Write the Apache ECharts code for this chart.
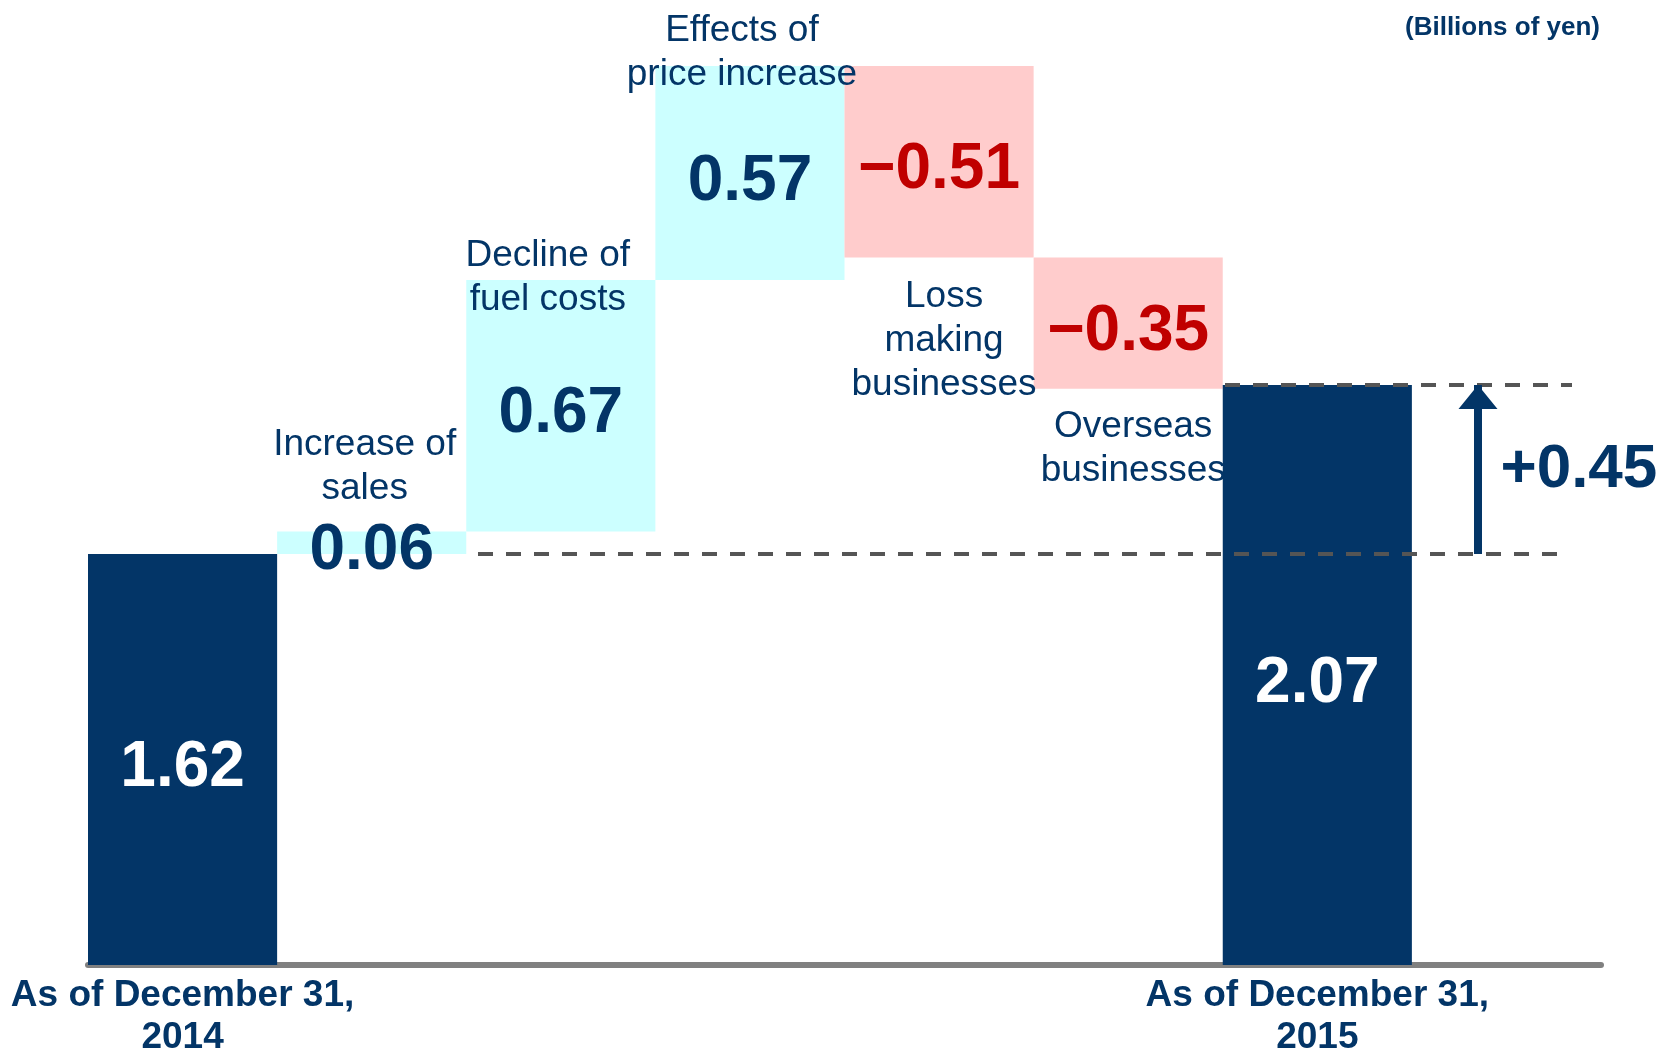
<!DOCTYPE html>
<html>
<head>
<meta charset="utf-8">
<script src="https://cdn.jsdelivr.net/npm/echarts@6/dist/echarts.min.js"></script>
<style>
  body { margin: 0; background: #fff; }
  #waterfall { width: 1661px; height: 1054px; }
</style>
</head>
<body>
<div id="waterfall"></div>
<script>
// categories and values (billions of yen)
const categories = ['As of December 31,\n2014', 'Increase of\nsales', 'Decline of\nfuel costs', 'Effects of\nprice increase', 'Loss\nmaking\nbusinesses', 'Overseas\nbusinesses', 'As of December 31,\n2015']
const changes = [1.62, 0.06, 0.67, 0.57, -0.51, -0.35, 2.07]
const kinds = ['total', 'up', 'up', 'up', 'down', 'down', 'total']
const unitText = '(Billions of yen)'

const NAVY = '#033567'
const FONT = "'Liberation Sans', Arial, sans-serif"

// running sums for the floating bars
const base = []
const height = []
let run = 0
changes.forEach((v, i) => {
  if (kinds[i] === 'total') {
    base.push(0); height.push(v); run = v
  } else if (v >= 0) {
    base.push(+run.toFixed(2)); height.push(v); run += v
  } else {
    run += v; base.push(+run.toFixed(2)); height.push(-v)
  }
})
const startTotal = changes[0]
const endTotal = changes[changes.length - 1]

// where the floating names sit relative to their bar (px)
const nameOffset = { 1: [-7, -21], 2: [-13, 42], 3: [-8, 31], 4: [5, 17], 5: [5, 16] }

const names = []
changes.forEach((v, i) => {
  if (kinds[i] === 'total') return
  const up = v >= 0
  names.push({
    value: [i, up ? base[i] + height[i] : base[i]],
    name: categories[i],
    label: { position: up ? 'top' : 'bottom', offset: nameOffset[i] }
  })
})

function fmt (v) {
  return v < 0 ? '\u2212' + Math.abs(v).toFixed(2) : v.toFixed(2)
}

const option = {
  animation: false,
  title: {
    text: unitText,
    right: 56,
    top: 10,
    textStyle: { color: NAVY, fontSize: 26, fontWeight: 'bold', fontFamily: FONT }
  },
  grid: { left: 88, right: 60, top: 66, bottom: 89, outerBoundsMode: 'none' },
  xAxis: {
    type: 'category',
    data: categories.map((c, i) => kinds[i] === 'total' ? c : '').concat(['']),
    axisLine: { lineStyle: { color: '#808080', width: 6 } },
    axisTick: { show: false },
    axisLabel: {
      interval: 0,
      margin: 10,
      color: NAVY,
      fontSize: 37,
      fontWeight: 'bold',
      lineHeight: 42,
      fontFamily: FONT
    }
  },
  yAxis: {
    type: 'value',
    min: 0.525,
    max: 2.92,
    show: false,
    splitLine: { show: false }
  },
  series: [
    {
      // dashed guides, under the bars
      name: 'guides',
      type: 'line',
      data: [],
      z: 1,
      markLine: {
        silent: true,
        symbol: ['none', 'none'],
        label: { show: false },
        lineStyle: { color: '#555555', width: 4, type: [15, 13] },
        data: [
          [{ coord: [2, startTotal], x: 478 }, { coord: [7, startTotal], x: 1560 }],
          [{ coord: [6, endTotal], x: 1225 }, { coord: [7, endTotal], x: 1572 }]
        ]
      }
    },
    {
      name: 'base',
      type: 'bar',
      stack: 'wf',
      barWidth: '100%',
      clip: true,
      itemStyle: { color: 'transparent' },
      data: base,
      z: 2
    },
    {
      name: 'change',
      type: 'bar',
      stack: 'wf',
      barWidth: '100%',
      clip: true,
      z: 2,
      data: height.map((h, i) => ({
        value: h,
        itemStyle: { color: kinds[i] === 'total' ? NAVY : (kinds[i] === 'up' ? '#CCFFFF' : '#FFCCCC') },
        label: { color: kinds[i] === 'total' ? '#ffffff' : (kinds[i] === 'up' ? NAVY : '#C00000') }
      })),
      label: {
        show: true,
        position: 'inside',
        offset: [0, 9],
        fontSize: 64,
        fontWeight: 'bold',
        fontFamily: FONT,
        formatter: p => fmt(changes[p.dataIndex])
      }
    },
    {
      name: 'names',
      type: 'scatter',
      symbolSize: 0,
      z: 3,
      itemStyle: { opacity: 1 },
      data: names,
      label: {
        show: true,
        distance: 0,
        color: NAVY,
        opacity: 1,
        fontSize: 37,
        lineHeight: 44,
        fontFamily: FONT,
        formatter: p => p.name
      }
    },
    {
      // arrow for the total change
      name: 'arrow',
      type: 'scatter',
      symbolSize: 0,
      z: 3,
      itemStyle: { opacity: 1, color: NAVY },
      data: [[7, (startTotal + endTotal) / 2]],
      label: {
        show: true,
        position: 'right',
        distance: -6,
        color: NAVY,
        opacity: 1,
        fontSize: 62,
        fontWeight: 'bold',
        fontFamily: FONT,
        formatter: () => '+' + (endTotal - startTotal).toFixed(2)
      },
      markLine: {
        silent: true,
        symbol: ['none', 'triangle'],
        label: { show: false },
        lineStyle: { color: NAVY, width: 8, type: 'solid', opacity: 1 },
        itemStyle: { color: NAVY, opacity: 1 },
        data: [
          [{ coord: [7, startTotal], x: 1478 }, { coord: [7, endTotal], x: 1478, symbolSize: [39, 24], symbolOffset: [0, '50%'] }]
        ]
      }
    }
  ]
}

const chart = echarts.init(document.getElementById('waterfall'))
chart.setOption(option)
</script>
</body>
</html>
